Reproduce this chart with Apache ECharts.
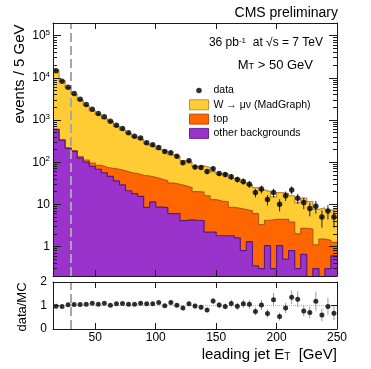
<!DOCTYPE html>
<html>
<head>
<meta charset="utf-8">
<script src="https://cdn.jsdelivr.net/npm/echarts@6/dist/echarts.min.js"></script>
<style>
  html, body { margin: 0; padding: 0; background: #fff; }
  #main { width: 371px; height: 369px; }
</style>
</head>
<body>
<div id="main"></div>
<script>
// bin edges of leading jet E_T, GeV (5 GeV bins)
const binEdges = [15, 20, 25, 30, 35, 40, 45, 50, 55, 60, 65, 70, 75, 80, 85, 90, 95, 100,
  105, 110, 115, 120, 125, 130, 135, 140, 145, 150, 155, 160, 165, 170, 175, 180, 185, 190,
  195, 200, 205, 210, 215, 220, 225, 230, 235, 240, 245, 250];

// events / 5 GeV
const dataCounts = [14800, 8260, 5960, 4230, 3100, 2320, 1800, 1425, 1190, 937,
  754, 630, 498, 414, 375, 289, 259, 224, 180, 168,
  139, 97, 108, 77, 75, 60, 70, 54, 51, 45,
  39, 35, 30, 19, 23, 13, 19, 10, 16, 22,
  14, 11, 8, 9, 5, 7, 5];
const dataErr = [122, 91, 77, 65, 56, 48, 42, 38, 34, 31,
  27, 25, 22, 20, 19, 17, 16, 15, 13, 13,
  12, 10, 10, 9, 9, 8, 8, 7, 7, 7,
  6, 6, 5.5, 4.4, 4.8, 3.6, 4.4, 3.2, 4, 4.7,
  3.7, 3.3, 2.8, 3, 2.2, 2.6, 2.2];

const wMuNu = [14655, 8259, 5571, 3882, 2845, 2098, 1545, 1276, 1004, 859,
  637, 516, 418, 340, 296, 223, 198, 158, 146, 117,
  108, 81.5, 76, 59, 62.5, 59, 46, 40, 41.5, 32.5,
  32, 25.5, 22, 19, 18.7, 15.8, 10.6, 14.6, 13.6, 12.2,
  9, 11.3, 9.0, 6.5, 6.8, 5.9, 6.25];
const topMC = [5, 6, 7, 8, 10, 12, 15, 16, 20, 25,
  32, 33, 35.5, 36, 33.5, 38.5, 32.6, 31.4, 27.6, 26,
  24, 23.4, 20.7, 15.8, 15.4, 13.8, 10.8, 10.2, 9.7, 6.7,
  6.4, 6.7, 5.7, 5.65, 3.0, 3.15, 4.1, 3.35, 3.9, 3.0,
  1.7, 2.05, 2.5, 0.8, 1.4, 1.1, 0.65];
const otherBkg = [600, 335, 212, 180, 125, 100, 80, 68, 56, 46,
  36, 29, 21, 18, 15.5, 8.5, 11.4, 8.6, 8.4, 6.0,
  6.0, 4.1, 4.3, 4.2, 4.1, 2.2, 2.2, 1.8, 1.8, 1.8,
  1.6, 0.8, 1.3, 0.35, 0.3, 1.05, 0.3, 1.05, 0.5, 0.8,
  0.3, 0.65, 0.1, 0.3, 0.1, 0.3, 0.6];

// data/MC
const ratio = [0.97, 0.96, 1.03, 1.04, 1.04, 1.05, 1.10, 1.05, 1.10, 1.01,
  1.07, 1.09, 1.05, 1.05, 1.10, 1.07, 1.07, 1.13, 0.99, 1.13,
  1.01, 0.89, 1.07, 0.98, 0.93, 0.81, 1.19, 1.02, 0.96, 1.09,
  0.97, 1.07, 1.05, 0.75, 1.02, 0.66, 1.25, 0.53, 0.89, 1.35,
  1.27, 0.77, 0.70, 1.18, 0.60, 0.96, 0.67];
const ratioErr = [0.01, 0.01, 0.01, 0.02, 0.02, 0.02, 0.03, 0.03, 0.03, 0.03,
  0.04, 0.04, 0.05, 0.05, 0.06, 0.06, 0.07, 0.08, 0.07, 0.09,
  0.09, 0.09, 0.10, 0.11, 0.10, 0.10, 0.14, 0.14, 0.13, 0.16,
  0.16, 0.18, 0.19, 0.17, 0.21, 0.18, 0.29, 0.17, 0.22, 0.29,
  0.34, 0.23, 0.25, 0.40, 0.27, 0.37, 0.30];

const etCut = 30;
const xTicks = [50, 100, 150, 200, 250];
const yMajor = [1, 10, 100, 1000, 10000, 100000];

const FONT = 'Liberation Sans, Arial, Helvetica, sans-serif';
const FRAME = '#1a1a1a';

const centers = binEdges.slice(0, -1).map((e, i) => (e + binEdges[i + 1]) / 2);
// histogram drawn as step line through the bin edges (last bin repeated on the upper edge)
const stepOf = vals => binEdges.map((e, i) => [e, vals[Math.min(i, vals.length - 1)]]);

// THStack style: each layer drawn as the cumulative sum of itself and the layers below it
const stackOther = otherBkg.slice();
const stackTop = otherBkg.map((v, i) => v + topMC[i]);
const stackW = stackTop.map((v, i) => v + wMuNu[i]);

const yMinor = [];
for (let k = -1; k <= 5; k++) {
  for (let d = 2; d <= 9; d++) yMinor.push(d * Math.pow(10, k));
}

const W_NAME = 'W \u2192 \u03bc\u03bd (MadGraph)';

function histo(name, vals, fill, edge, z) {
  return {
    name: name, type: 'line', step: 'end', symbol: 'none', z: z,
    xAxisIndex: 0, yAxisIndex: 0,
    data: stepOf(vals),
    lineStyle: { color: edge, width: 1.2 },
    itemStyle: { color: fill },
    areaStyle: { color: fill, opacity: 1, origin: 'start' },
    emphasis: { disabled: true },
    silent: true
  };
}

function errorBars(vals, errs, xIdx, yIdx, color, z) {
  return {
    type: 'custom', xAxisIndex: xIdx, yAxisIndex: yIdx, z: z, silent: true,
    data: vals.map((v, i) => [centers[i], v - errs[i], v + errs[i]]),
    encode: { x: 0, y: [1, 2] },
    renderItem: function (params, api) {
      const lo = api.coord([api.value(0), api.value(1)]);
      const hi = api.coord([api.value(0), api.value(2)]);
      return {
        type: 'line',
        shape: { x1: lo[0], y1: lo[1], x2: hi[0], y2: hi[1] },
        style: { stroke: color, lineWidth: 1 }
      };
    }
  };
}

function xAxisOf(grid, pos, labels) {
  return {
    type: 'value', gridIndex: grid, position: pos, min: 15, max: 250, z: 10,
    axisLine: { show: true, onZero: false, lineStyle: { color: FRAME, width: 1 } },
    axisTick: { show: true, inside: true, length: 6, customValues: xTicks, lineStyle: { color: FRAME } },
    axisLabel: labels ? { show: true, customValues: xTicks, fontSize: 12, fontFamily: FONT, color: '#000', margin: 3 } : { show: false },
    splitLine: { show: false }
  };
}

function logAxisOf(pos, major, labels) {
  return {
    type: 'log', logBase: 10, gridIndex: 0, position: pos, min: 0.2, max: 200000, z: 10,
    axisLine: { show: major, onZero: false, lineStyle: { color: FRAME, width: 1 } },
    axisTick: { show: true, inside: true, length: major ? 8 : 4, customValues: major ? yMajor : yMinor, lineStyle: { color: FRAME } },
    axisLabel: labels ? {
      show: true, customValues: yMajor, fontSize: 12, fontFamily: FONT, color: '#000', margin: 3, lineHeight: 14,
      formatter: function (v) {
        const e = Math.round(Math.log10(v));
        if (e === 0) return '1';
        if (e === 1) return '10';
        return '10{sup|' + e + '}';
      },
      rich: { sup: { fontSize: 8, fontFamily: FONT, color: '#000', verticalAlign: 'top', lineHeight: 10 } }
    } : { show: false },
    splitLine: { show: false }
  };
}

function ratioAxisOf(pos, labels) {
  return {
    type: 'value', gridIndex: 1, position: pos, min: 0, max: 2, interval: 1, z: 10,
    axisLine: { show: true, onZero: false, lineStyle: { color: FRAME, width: 1 } },
    axisTick: { show: true, inside: true, length: 6, lineStyle: { color: FRAME } },
    axisLabel: labels ? { show: true, fontSize: 12, fontFamily: FONT, color: '#000', margin: 6 } : { show: false },
    splitLine: { show: false }
  };
}

const option = {
  animation: false,
  backgroundColor: '#fff',
  grid: [
    { left: 53, top: 23, width: 284, height: 253 },
    { left: 53, top: 282, width: 284, height: 47 }
  ],
  xAxis: [
    xAxisOf(0, 'bottom', false),
    xAxisOf(0, 'top', false),
    xAxisOf(1, 'bottom', true),
    xAxisOf(1, 'top', false)
  ],
  yAxis: [
    logAxisOf('left', true, true),
    logAxisOf('left', false, false),
    logAxisOf('right', true, false),
    logAxisOf('right', false, false),
    ratioAxisOf('left', true),
    ratioAxisOf('right', false)
  ],
  legend: {
    orient: 'vertical', left: 189, top: 85, padding: 0,
    itemWidth: 19, itemHeight: 10, itemGap: 3.3,
    selectedMode: false,
    textStyle: { fontSize: 10.5, fontFamily: FONT, color: '#000', lineHeight: 10 },
    data: [
      { name: 'data', icon: 'path://M0,0L0.01,0M19,10L19.01,10M12.3,5A2.8,2.8,0,1,1,6.7,5A2.8,2.8,0,1,1,12.3,5Z', itemStyle: { color: '#000', borderWidth: 0 } },
      { name: W_NAME, icon: 'rect', itemStyle: { color: '#ffcc33', borderColor: '#c4913a', borderWidth: 1 } },
      { name: 'top', icon: 'rect', itemStyle: { color: '#ff6600', borderColor: '#c24e0c', borderWidth: 1 } },
      { name: 'other backgrounds', icon: 'rect', itemStyle: { color: '#9933cc', borderColor: '#6c2496', borderWidth: 1 } }
    ]
  },
  graphic: [
    { type: 'text', x: 338, y: 13, style: { text: 'CMS preliminary', font: '14px ' + FONT, fill: '#000', align: 'right', verticalAlign: 'middle' } },
    { type: 'text', x: 323, y: 43, style: {
      text: '36 pb{sup|-1}  at \u221as = 7 TeV', font: '12px ' + FONT, fill: '#000', align: 'right', verticalAlign: 'middle',
      rich: { sup: { font: '8px ' + FONT, fill: '#000', verticalAlign: 'top', lineHeight: 10 } }
    } },
    { type: 'text', x: 313, y: 65, style: {
      text: 'M{sub|T} > 50 GeV', font: '13px ' + FONT, fill: '#000', align: 'right', verticalAlign: 'middle',
      rich: { sub: { font: '9px ' + FONT, fill: '#000', verticalAlign: 'bottom', lineHeight: 10 } }
    } },
    { type: 'text', x: 20, y: 74, rotation: Math.PI / 2, style: { text: 'events / 5 GeV', font: '15px ' + FONT, fill: '#000', align: 'center', verticalAlign: 'middle' } },
    { type: 'text', x: 22, y: 307, rotation: Math.PI / 2, style: { text: 'data/MC', font: '13px ' + FONT, fill: '#000', align: 'center', verticalAlign: 'middle' } },
    { type: 'text', x: 337, y: 355, style: {
      text: 'leading jet E{sub|T}  [GeV]', font: '15px ' + FONT, fill: '#000', align: 'right', verticalAlign: 'middle',
      rich: { sub: { font: '10px ' + FONT, fill: '#000', verticalAlign: 'bottom', lineHeight: 12 } }
    } }
  ],
  series: [
    histo(W_NAME, stackW, '#ffcc33', '#b58a3c', 2),
    histo('top', stackTop, '#ff6600', '#b9561c', 3),
    histo('other backgrounds', stackOther, '#9933cc', '#5a1a86', 4),
    errorBars(dataCounts, dataErr, 0, 0, '#222', 6),
    {
      name: 'data', type: 'scatter', xAxisIndex: 0, yAxisIndex: 0, z: 7, silent: true,
      symbol: 'circle', symbolSize: 5.5,
      itemStyle: { color: '#000' },
      data: dataCounts.map((v, i) => [centers[i], v]),
      markLine: {
        silent: true, symbol: 'none', label: { show: false },
        lineStyle: { color: '#a6a6a6', type: [9, 4], width: 2 },
        data: [{ xAxis: etCut }]
      }
    },
    errorBars(ratio, ratioErr, 2, 4, '#9a9a9a', 6),
    {
      name: 'data/MC', type: 'scatter', xAxisIndex: 2, yAxisIndex: 4, z: 7, silent: true,
      symbol: 'circle', symbolSize: 5,
      itemStyle: { color: '#000' },
      data: ratio.map((v, i) => [centers[i], v]),
      markLine: {
        silent: true, symbol: 'none', label: { show: false },
        data: [
          { yAxis: 1, lineStyle: { color: '#b0b0b0', type: 'dotted', width: 1 } },
          { xAxis: etCut, lineStyle: { color: '#a6a6a6', type: [9, 4], width: 2 } }
        ]
      }
    }
  ]
};

const chart = echarts.init(document.getElementById('main'), null, { renderer: 'canvas' });
chart.setOption(option);
</script>
</body>
</html>
